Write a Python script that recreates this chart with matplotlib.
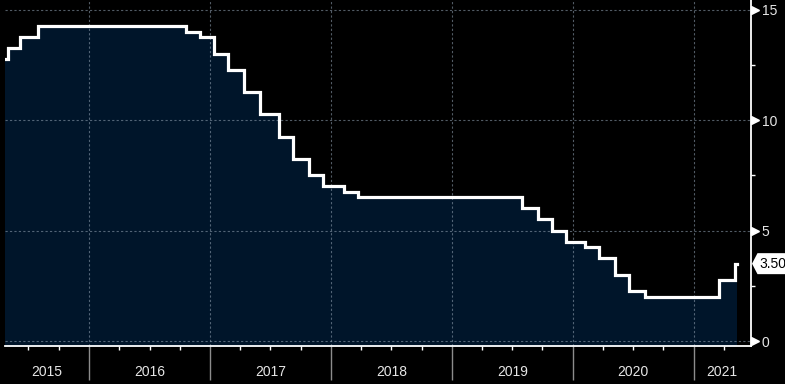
import matplotlib
matplotlib.use("Agg")
import matplotlib.pyplot as plt
import matplotlib.dates as mdates
import matplotlib.transforms as mtransforms
from matplotlib.patches import Polygon
import numpy as np
import datetime as dt

# ---- data (Selic target rate, %) ----
change_dates = ["2015-03-05", "2015-04-30", "2015-06-04", "2015-07-30", "2016-10-20",
                "2016-12-01", "2017-01-12", "2017-02-23", "2017-04-13", "2017-06-01",
                "2017-07-27", "2017-09-07", "2017-10-26", "2017-12-07", "2018-02-08",
                "2018-03-22", "2019-08-01", "2019-09-19", "2019-10-31", "2019-12-12",
                "2020-02-06", "2020-03-19", "2020-05-07", "2020-06-18", "2020-08-06",
                "2021-03-18", "2021-05-06", "2021-05-11"]
rates = [12.75, 13.25, 13.75, 14.25, 14.00,
         13.75, 13.00, 12.25, 11.25, 10.25,
         9.25, 8.25, 7.50, 7.00, 6.75,
         6.50, 6.00, 5.50, 5.00, 4.50,
         4.25, 3.75, 3.00, 2.25, 2.00,
         2.75, 3.50, 3.50]
year_labels = ["2015", "2016", "2017", "2018", "2019", "2020", "2021"]
y_ticks = [0, 5, 10, 15]
y_minor = [2.5, 7.5, 12.5]
last_label = "3.50"

W, H = 785, 384
fig = plt.figure(figsize=(W / 100, H / 100), dpi=100, facecolor="black")
ax = fig.add_axes([5 / W, 38 / H, 745.5 / W, 346 / H], facecolor="black")

FONT = "Liberation Sans"
FS = 10
dates = mdates.datestr2num(change_dates)
r = np.array(rates)

x_left = mdates.date2num(dt.datetime(2015, 4, 21))
x_right = mdates.date2num(dt.datetime(2021, 6, 21))
ax.set_xlim(x_left, x_right)
ax.set_ylim(-0.226, 15.43)

ax.fill_between(dates, r, -1, step="post", color="#00152a", zorder=1, linewidth=0)
ax.plot(dates, r, drawstyle="steps-post", color="white", lw=2.3, zorder=3,
        solid_joinstyle="miter")

grid_kw = dict(color="#8a9aaa", alpha=0.6, lw=0.8, linestyle=(0, (2, 2)), zorder=1.5)
year_starts = [mdates.date2num(dt.datetime(int(y), 1, 1)) for y in year_labels]
for ys in year_starts[1:]:
    ax.axvline(ys, **grid_kw)
for yt in y_ticks:
    ax.axhline(yt, **grid_kw)

for s in ["left", "top"]:
    ax.spines[s].set_visible(False)
for s in ["right", "bottom"]:
    ax.spines[s].set_color("white")
    ax.spines[s].set_linewidth(1.3)

# y axis on the right
ax.yaxis.tick_right()
ax.set_yticks(y_ticks)
ax.set_yticklabels([str(v) for v in y_ticks], fontsize=FS, color="#e6e6e6", family=FONT)
ax.set_yticks(y_minor, minor=True)
ax.tick_params(axis="y", which="major", length=0, pad=8.0)
ax.tick_params(axis="y", which="minor", length=3, width=1, color="white", direction="out")
tr_right = mtransforms.blended_transform_factory(ax.transAxes, ax.transData)
off = mtransforms.ScaledTranslation(4 / 100, 0, fig.dpi_scale_trans)
ax.plot([1] * len(y_ticks), y_ticks, linestyle="none", marker=">", markersize=5.5,
        color="white", transform=tr_right + off, clip_on=False, zorder=5)

# last value tag (pixel-shaped polygon anchored at the axis / last value)
anchor = mtransforms.ScaledTranslation(1, r[-1], tr_right)
tag_tr = fig.dpi_scale_trans + anchor
verts = np.array([[1.5, 0], [7, 10.5], [40, 10.5], [40, -10.5], [7, -10.5]]) / 100
ax.add_patch(Polygon(verts, closed=True, fc="white", ec="none", transform=tag_tr,
                     clip_on=False, zorder=6))
ax.text(9 / 100, 0, last_label, transform=tag_tr, ha="left", va="center",
        fontsize=FS, color="black", family=FONT, zorder=7, clip_on=False)

# x axis: quarterly minor ticks, year separators, centered year labels
ax.set_xticks(year_starts[1:])
ax.set_xticklabels([])
ax.tick_params(axis="x", which="major", length=24.5, width=1, color="#8c8c8c", direction="out")
q_ticks = []
for y in year_labels:
    for m in (4, 7, 10):
        d = mdates.date2num(dt.datetime(int(y), m, 1))
        if x_left < d < x_right:
            q_ticks.append(d)
ax.set_xticks(q_ticks, minor=True)
ax.tick_params(axis="x", which="minor", length=3, width=1, color="white", direction="out")

bounds = [x_left] + year_starts[1:] + [x_right]
tr_bottom = mtransforms.blended_transform_factory(ax.transData, ax.transAxes)
for i, lab in enumerate(year_labels):
    mid = (bounds[i] + bounds[i + 1]) / 2
    ax.text(mid, -26 / 346, lab, transform=tr_bottom, ha="center", va="center",
            fontsize=FS, color="#e6e6e6", family=FONT)

fig.savefig("out.png", dpi=100, facecolor="black")
